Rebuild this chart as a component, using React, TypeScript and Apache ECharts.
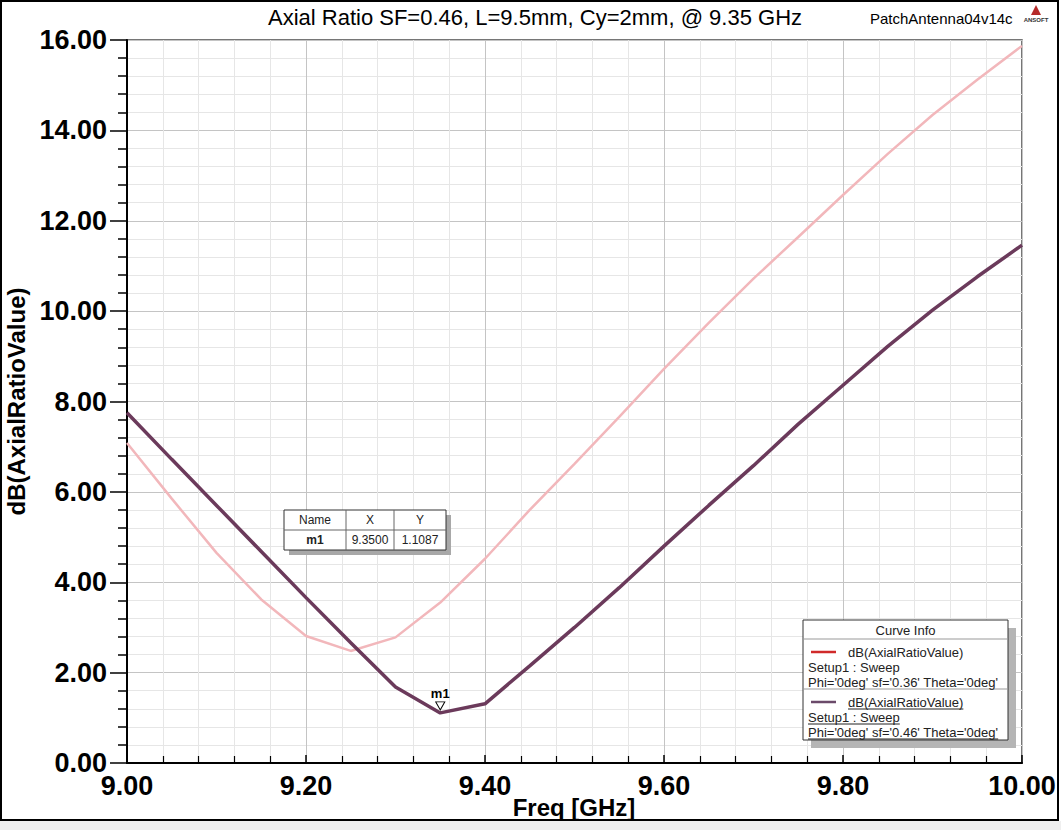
import React, { useEffect, useRef } from "react";
import * as echarts from "echarts";

const freqs = [9.0, 9.05, 9.1, 9.15, 9.2, 9.25, 9.3, 9.35, 9.4, 9.45, 9.5, 9.55, 9.6, 9.65, 9.7, 9.75, 9.8, 9.85, 9.9, 9.95, 10.0];
const arSf036 = [7.08, 5.85, 4.65, 3.62, 2.81, 2.48, 2.78, 3.55, 4.52, 5.6, 6.62, 7.66, 8.72, 9.74, 10.72, 11.64, 12.57, 13.48, 14.34, 15.12, 15.87];
const arSf046 = [7.75, 6.72, 5.7, 4.68, 3.66, 2.66, 1.68, 1.1087, 1.31, 2.15, 3.0, 3.88, 4.8, 5.7, 6.58, 7.5, 8.36, 9.22, 10.02, 10.76, 11.46];

const titleText = "Axial Ratio SF=0.46, L=9.5mm, Cy=2mm, @ 9.35 GHz";
const xAxisName = "Freq [GHz]";
const yAxisName = "dB(AxialRatioValue)";
const projectName = "PatchAntenna04v14c";
const markerName = "m1";
const markerX = 9.35;
const markerY = 1.1087;
const legendTitle = "Curve Info";
const legendEntries = [
  { expr: "dB(AxialRatioValue)", setup: "Setup1 : Sweep", vars: "Phi='0deg' sf='0.36' Theta='0deg'" },
  { expr: "dB(AxialRatioValue)", setup: "Setup1 : Sweep", vars: "Phi='0deg' sf='0.46' Theta='0deg'" },
];

const FONT = "'Liberation Sans', Arial, Helvetica, sans-serif";
const PINK = "#f2b7bb";
const DARK = "#6b3a5b";
const LEG_RED = "#d02a2a";

function measure(text: string, font: string): number {
  const c = document.createElement("canvas").getContext("2d");
  if (!c) return text.length * 7;
  c.font = font;
  return c.measureText(text).width;
}

export default function App() {
  const ref = useRef<HTMLDivElement>(null);
  useEffect(() => {
    document.body.style.margin = "0";
    if (!ref.current) return;
    const chart = echarts.init(ref.current, undefined, { renderer: "svg" });

    const data036 = freqs.map((f, i) => [f, arSf036[i]]);
    const data046 = freqs.map((f, i) => [f, arSf046[i]]);

    const legFont = "13px " + FONT;
    const lx = 803, ly = 620, lw = 205, lh = 120;
    const graphics: any[] = [];
    // frame
    graphics.push({ type: "rect", shape: { x: 0, y: 821, width: 1061, height: 9 }, style: { fill: "#efefef" }, z: -10 });
    graphics.push({ type: "rect", shape: { x: 1, y: 1, width: 1057, height: 819 }, style: { fill: "none", stroke: "#000", lineWidth: 2 }, z: -10 });
    // title
    graphics.push({ type: "text", x: 535, y: 17, style: { text: titleText, font: "22px " + FONT, fill: "#000", align: "center", verticalAlign: "middle" }, z: 10 });
    graphics.push({ type: "text", x: 870, y: 18, style: { text: projectName, font: "15px " + FONT, fill: "#000", align: "left", verticalAlign: "middle" }, z: 10 });
    graphics.push({ type: "polygon", shape: { points: [[1031, 15], [1036, 5], [1041, 15]] }, style: { fill: "#b52a2a" }, z: 10 });
    graphics.push({ type: "text", x: 1036, y: 20, style: { text: "ANSOFT", font: "bold 6px " + FONT, fill: "#333", align: "center", verticalAlign: "middle" }, z: 10 });
    // x axis name
    graphics.push({ type: "text", x: 574, y: 807, style: { text: xAxisName, font: "bold 24px " + FONT, fill: "#000", align: "center", verticalAlign: "middle" }, z: 10 });

    // marker table
    const tx = 284, ty = 510, tw = 162, th = 40;
    graphics.push({ type: "rect", shape: { x: tx + 5, y: ty + 5, width: tw, height: th }, style: { fill: "#a8a8a8" }, z: 20 });
    graphics.push({ type: "rect", shape: { x: tx, y: ty, width: tw, height: th }, style: { fill: "#fff", stroke: "#333", lineWidth: 1 }, z: 21 });
    graphics.push({ type: "line", shape: { x1: tx, y1: ty + 20, x2: tx + tw, y2: ty + 20 }, style: { stroke: "#666", lineWidth: 1 }, z: 22 });
    graphics.push({ type: "line", shape: { x1: 346, y1: ty, x2: 346, y2: ty + th }, style: { stroke: "#666", lineWidth: 1 }, z: 22 });
    graphics.push({ type: "line", shape: { x1: 394, y1: ty, x2: 394, y2: ty + th }, style: { stroke: "#666", lineWidth: 1 }, z: 22 });
    const cells = [
      ["Name", 315, ty + 10, false], ["X", 370, ty + 10, false], ["Y", 420, ty + 10, false],
      [markerName, 315, ty + 30, true], [markerX.toFixed(4), 370, ty + 30, false], [markerY.toFixed(4), 420, ty + 30, false],
    ];
    cells.forEach(([t, x, y, b]) => {
      graphics.push({ type: "text", x, y, style: { text: t, font: (b ? "bold " : "") + "12px " + FONT, fill: "#222", align: "center", verticalAlign: "middle" }, z: 23 });
    });

    // legend box
    graphics.push({ type: "rect", shape: { x: lx + 8, y: ly + 8, width: lw, height: lh }, style: { fill: "#b5b5b5" }, z: 20 });
    graphics.push({ type: "rect", shape: { x: lx, y: ly, width: lw, height: lh }, style: { fill: "#fff", stroke: "#333", lineWidth: 1 }, z: 21 });
    graphics.push({ type: "text", x: lx + lw / 2, y: ly + 10, style: { text: legendTitle, font: legFont, fill: "#222", align: "center", verticalAlign: "middle" }, z: 23 });
    graphics.push({ type: "line", shape: { x1: lx, y1: ly + 19, x2: lx + lw, y2: ly + 19 }, style: { stroke: "#999", lineWidth: 1 }, z: 22 });
    graphics.push({ type: "line", shape: { x1: lx, y1: ly + 69, x2: lx + lw, y2: ly + 69 }, style: { stroke: "#999", lineWidth: 1 }, z: 22 });
    legendEntries.forEach((e, i) => {
      const y0 = ly + 32 + i * 50;
      const col = i === 0 ? LEG_RED : "#6b4a6a";
      graphics.push({ type: "line", shape: { x1: lx + 8, y1: y0, x2: lx + 33, y2: y0 }, style: { stroke: col, lineWidth: 2.5 }, z: 22 });
      const rows: [string, number, number][] = [[e.expr, lx + 45, y0], [e.setup, lx + 5, y0 + 15], [e.vars, lx + 5, y0 + 30]];
      rows.forEach(([t, x, y]) => {
        graphics.push({ type: "text", x, y, style: { text: t, font: legFont, fill: "#222", align: "left", verticalAlign: "middle" }, z: 23 });
        if (i === 1) {
          const w = measure(t, legFont);
          graphics.push({ type: "line", shape: { x1: x, y1: y + 7, x2: x + w, y2: y + 7 }, style: { stroke: "#222", lineWidth: 1 }, z: 23 });
        }
      });
    });

    chart.setOption({
      animation: false,
      backgroundColor: "#fff",
      grid: {
        left: 127, top: 40, right: 39, bottom: 67,
        outerBoundsMode: "none",
        containLabel: false,
        show: true, borderColor: "#4a4a4a", borderWidth: 1.5, backgroundColor: "transparent",
      },
      xAxis: {
        type: "value",
        min: 9,
        max: 10,
        interval: 0.2,
        axisLine: { show: true, onZero: false, lineStyle: { color: "#000", width: 2 } },
        axisTick: { show: true, inside: true, length: 8, lineStyle: { color: "#000", width: 1.5 } },
        minorTick: { show: true, splitNumber: 5, length: 7, lineStyle: { color: "#000", width: 1.2 } },
        axisLabel: { formatter: (v: number) => v.toFixed(2), fontFamily: FONT, fontWeight: "bold", fontSize: 27, color: "#000", margin: 9 },
        splitLine: { show: true, lineStyle: { color: "#c4c4c4", width: 1 } },
        minorSplitLine: { show: true, lineStyle: { color: "#e6e6e6", width: 1 } },
      },
      yAxis: {
        type: "value",
        min: 0,
        max: 16,
        interval: 2,
        name: yAxisName,
        nameLocation: "middle",
        nameGap: 97,
        nameRotate: 90,
        nameTextStyle: { fontFamily: FONT, fontWeight: "bold", fontSize: 24, color: "#000" },
        axisLine: { show: true, lineStyle: { color: "#000", width: 2 } },
        axisTick: { show: true, inside: false, length: 17, lineStyle: { color: "#000", width: 1.5 } },
        minorTick: { show: true, splitNumber: 5, length: 9, lineStyle: { color: "#000", width: 1.5 } },
        axisLabel: { formatter: (v: number) => v.toFixed(2), fontFamily: FONT, fontWeight: "bold", fontSize: 27, color: "#000", margin: 20 },
        splitLine: { show: true, lineStyle: { color: "#c4c4c4", width: 1 } },
        minorSplitLine: { show: true, lineStyle: { color: "#e6e6e6", width: 1 } },
      },
      series: [
        {
          name: "sf=0.36",
          type: "line",
          data: data036,
          showSymbol: false,
          lineStyle: { color: PINK, width: 2.5 },
          itemStyle: { color: PINK },
          z: 3,
        },
        {
          name: "sf=0.46",
          type: "line",
          data: data046,
          showSymbol: false,
          lineStyle: { color: DARK, width: 3.5 },
          itemStyle: { color: DARK },
          z: 4,
          markPoint: {
            symbol: "triangle",
            symbolSize: [9, 8],
            symbolRotate: 180,
            symbolOffset: [0, -7],
            itemStyle: { color: "#fff", borderColor: "#000", borderWidth: 1 },
            label: { show: true, position: "top", distance: 1, formatter: markerName, fontFamily: FONT, fontWeight: "bold", fontSize: 13, color: "#000" },
            data: [{ coord: [markerX, markerY] }],
          },
        },
      ],
      graphic: graphics,
    });
    return () => chart.dispose();
  }, []);
  return <div ref={ref} style={{ width: 1061, height: 830 }} />;
}
